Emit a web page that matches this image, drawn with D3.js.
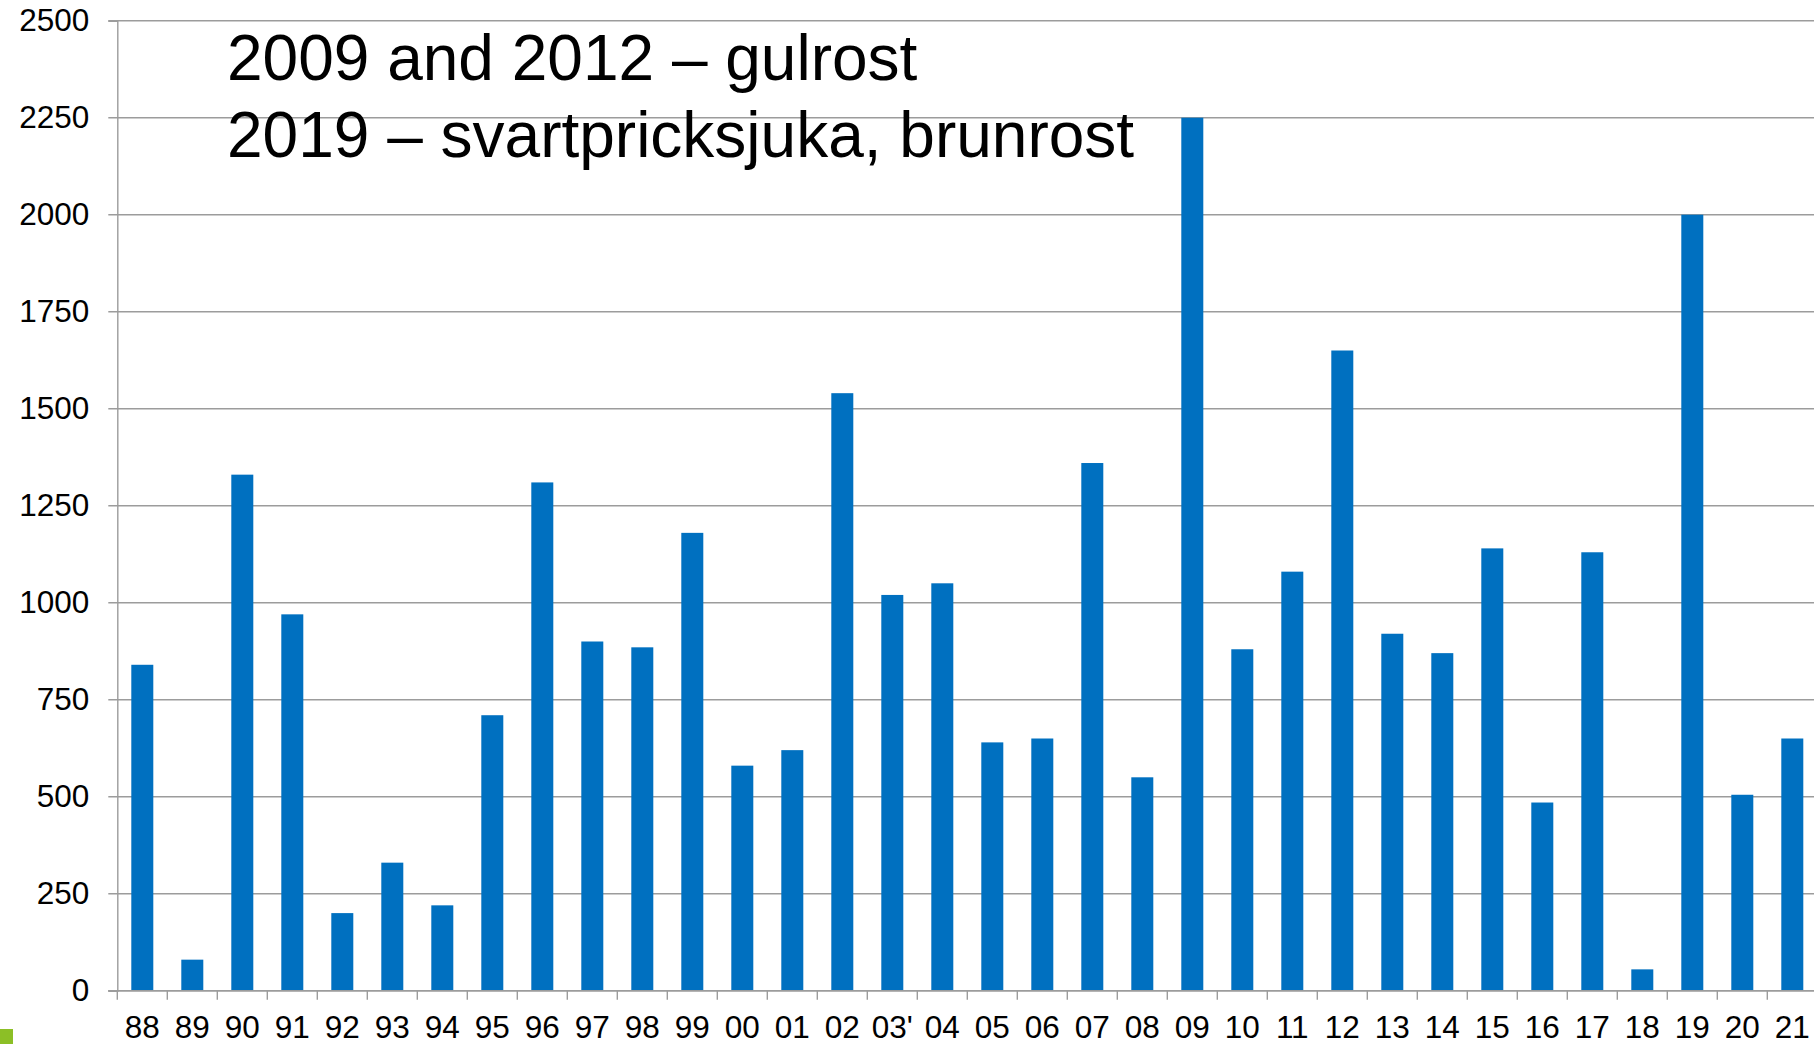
<!DOCTYPE html>
<html>
<head>
<meta charset="utf-8">
<script src="https://cdn.jsdelivr.net/npm/d3@7"></script>
<style>
  html, body { margin: 0; padding: 0; background: #ffffff; overflow: hidden; }
  svg { display: block; font-family: "Liberation Sans", Arial, sans-serif; }
</style>
</head>
<body>
<div id="chartContainer"></div>
<script>
// chart values
const categories = ["88","89","90","91","92","93","94","95","96","97","98","99",
  "00","01","02","03'","04","05","06","07","08","09","10","11","12","13","14",
  "15","16","17","18","19","20","21"];
const values = [840, 80, 1330, 970, 200, 330, 220, 710, 1310, 900, 885, 1180,
  580, 620, 1540, 1020, 1050, 640, 650, 1360, 550, 2250, 880, 1080, 1650, 920, 870,
  1140, 485, 1130, 55, 2000, 505, 650];
const yTicks = [0, 250, 500, 750, 1000, 1250, 1500, 1750, 2000, 2250, 2500];
const noteLines = ["2009 and 2012 \u2013 gulrost", "2019 \u2013 svartpricksjuka, brunrost"];

const data = categories.map((c, i) => ({ name: c, value: values[i] }));

const W = 1814, H = 1044;
const margin = { left: 117.3, right: 1817.3, top: 20.7, bottom: 990.7 };

const svg = d3.select("#chartContainer")
  .append("svg")
  .attr("width", W)
  .attr("height", H);

// scales
const xCat = d3.scaleBand().domain(categories).range([margin.left, margin.right]).padding(0);
const xBar = d3.scaleBand().domain(categories).range([margin.left, margin.right])
  .paddingInner(0.56).paddingOuter(0.28);
const y = d3.scaleLinear().domain([0, 2500]).range([margin.bottom, margin.top]);

// gridlines
svg.append("g")
  .selectAll("line")
  .data(yTicks)
  .enter()
  .append("line")
  .attr("x1", margin.left - 9)
  .attr("x2", W)
  .attr("y1", d => y(d))
  .attr("y2", d => y(d))
  .attr("stroke", "#9c9c9c")
  .attr("stroke-width", 1.4);

// y axis
const yAxis = svg.append("g")
  .attr("transform", `translate(${margin.left},0)`)
  .call(d3.axisLeft(y).tickValues(yTicks).tickSize(9).tickPadding(19).tickFormat(d3.format("d")));
yAxis.select(".domain").attr("stroke", "#9c9c9c").attr("stroke-width", 1.4);
yAxis.selectAll(".tick line").attr("stroke", "none");
yAxis.selectAll("text")
  .style("font-size", "31.5px")
  .style("font-family", "'Liberation Sans', Arial, sans-serif")
  .attr("fill", "#000");

// bars
svg.append("g")
  .selectAll(".bar")
  .data(data)
  .enter()
  .append("rect")
  .attr("class", "bar")
  .attr("x", d => xBar(d.name))
  .attr("y", d => y(d.value))
  .attr("width", xBar.bandwidth())
  .attr("height", d => y(0) - y(d.value))
  .attr("fill", "#0070c0");

// x axis baseline and boundary ticks
svg.append("line")
  .attr("x1", margin.left - 9).attr("x2", W)
  .attr("y1", y(0)).attr("y2", y(0))
  .attr("stroke", "#9c9c9c").attr("stroke-width", 1.4);

const bounds = categories.map(c => xCat(c)).concat([margin.right]);
svg.append("g")
  .selectAll("line")
  .data(bounds)
  .enter()
  .append("line")
  .attr("x1", d => d).attr("x2", d => d)
  .attr("y1", y(0)).attr("y2", y(0) + 9)
  .attr("stroke", "#9c9c9c").attr("stroke-width", 1.4);

// x labels
svg.append("g")
  .selectAll("text")
  .data(categories)
  .enter()
  .append("text")
  .attr("x", d => xCat(d) + xCat.bandwidth() / 2)
  .attr("y", 1038)
  .attr("text-anchor", "middle")
  .style("font-size", "31.5px")
  .attr("fill", "#000")
  .text(d => d);

// annotation text
svg.append("g")
  .selectAll("text")
  .data(noteLines)
  .enter()
  .append("text")
  .attr("x", 227)
  .attr("y", (d, i) => 80 + i * 77)
  .style("font-size", "64px")
  .attr("fill", "#000")
  .text(d => d);

// small green marker bottom-left
svg.append("rect")
  .attr("x", 0).attr("y", 1029)
  .attr("width", 13).attr("height", 15)
  .attr("fill", "#8cbf26");
</script>
</body>
</html>
